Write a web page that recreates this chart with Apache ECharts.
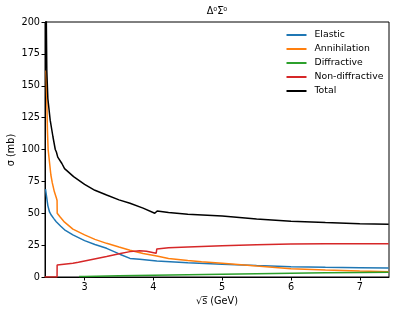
<!DOCTYPE html>
<html>
<head>
<meta charset="utf-8">
<script src="https://cdn.jsdelivr.net/npm/echarts@6/dist/echarts.min.js"></script>
<style>html,body{margin:0;padding:0;background:#fff}#c{width:399px;height:315px}</style>
</head>
<body>
<div id="c"></div>
<script>
const seriesNames = ['Elastic', 'Annihilation', 'Diffractive', 'Non-diffractive', 'Total'];
const xTicks = [3, 4, 5, 6, 7];
const yTicks = [0, 25, 50, 75, 100, 125, 150, 175, 200];

const elasticX = [2.432, 2.45, 2.466, 2.49, 2.515, 2.55, 2.588, 2.65, 2.709, 2.83, 3.0, 3.15, 3.32, 3.52, 3.66, 3.8, 4.05, 4.5, 5.0, 5.5, 6.0, 6.5, 7.0, 7.42];
const elasticY = [69, 62, 56, 51, 48.6, 46, 43.4, 40, 37, 33, 28.5, 25.5, 22.5, 17.7, 14.6, 13.9, 12.5, 11.2, 10, 9, 8.1, 7.6, 7.3, 7.1];

const annihX = [2.44, 2.45, 2.46, 2.47, 2.49, 2.51, 2.53, 2.56, 2.59, 2.6, 2.602, 2.645, 2.709, 2.83, 3.0, 3.15, 3.32, 3.5, 3.66, 3.85, 4.05, 4.22, 4.5, 4.7, 5.0, 5.5, 6.0, 6.5, 7.0, 7.42];
const annihY = [162, 140, 115, 100, 90, 80, 74, 67, 62, 60, 50, 47, 43, 37.6, 33, 29.5, 26.4, 23.5, 21, 18.5, 16.5, 14.5, 13, 12, 10.8, 8.6, 6.5, 5.5, 4.7, 4.2];

const diffX = [2.92, 3.0, 3.5, 4.0, 4.5, 5.0, 5.5, 6.0, 6.5, 7.0, 7.42];
const diffY = [0.3, 0.4, 0.9, 1.4, 1.8, 2.2, 2.6, 3.0, 3.3, 3.6, 3.8];

const nondiffX = [2.42, 2.6, 2.601, 2.7, 2.83, 2.91, 2.93, 3.0, 3.32, 3.52, 3.66, 3.8, 3.9, 4.04, 4.05, 4.22, 4.5, 4.7, 5.0, 5.5, 6.0, 6.5, 7.0, 7.42];
const nondiffY = [0, 0, 9.4, 10, 10.7, 11.5, 12.3, 12.5, 16, 18.5, 19.9, 20.6, 20.2, 18.6, 22, 23, 23.6, 24, 24.5, 25.3, 25.8, 26, 26, 26];

const totalX = [2.432, 2.444, 2.451, 2.466, 2.5, 2.54, 2.574, 2.59, 2.61, 2.67, 2.709, 2.84, 3.0, 3.15, 3.32, 3.5, 3.66, 3.85, 4.02, 4.035, 4.045, 4.055, 4.22, 4.5, 5.0, 5.5, 6.0, 6.5, 7.0, 7.42];
const totalY = [230, 200, 162, 140, 123, 110, 100, 98, 94, 89, 85, 78.7, 72.7, 68, 64.3, 60.5, 57.8, 54, 50, 48.6, 48.8, 51.8, 50.5, 49.3, 47.8, 45.5, 43.8, 42.7, 41.8, 41.3];

const colors = ['#1f77b4', '#ff7f0e', '#2ca02c', '#d62728', '#000000'];
const xs = [elasticX, annihX, diffX, nondiffX, totalX];
const ys = [elasticY, annihY, diffY, nondiffY, totalY];

const FONT = 'DejaVu Sans';
const chart = echarts.init(document.getElementById('c'), null, {renderer: 'canvas'});
chart.setOption({
  animation: false,
  backgroundColor: '#fff',
  grid: {left: 45, right: 10, top: 22, bottom: 38, show: true, borderColor: '#000', borderWidth: 1, backgroundColor: 'transparent'},
  xAxis: {
    type: 'value', min: 2.4246, max: 7.4246,
    axisLine: {show: true, lineStyle: {color: '#000', width: 1}},
    axisTick: {show: true, inside: false, length: 3.5, customValues: xTicks, lineStyle: {color: '#000'}},
    axisLabel: {customValues: xTicks, color: '#000', fontFamily: FONT, fontSize: 9.7, margin: 5},
    splitLine: {show: false}
  },
  yAxis: {
    type: 'value', min: 0, max: 200, interval: 25,
    axisLine: {show: true, lineStyle: {color: '#000', width: 1}},
    axisTick: {show: true, inside: false, length: 3.5, lineStyle: {color: '#000'}},
    axisLabel: {color: '#000', fontFamily: FONT, fontSize: 9.7, margin: 5},
    splitLine: {show: false}
  },
  legend: {
    orient: 'vertical', left: 281.5, top: 24, itemWidth: 20, itemHeight: 2, itemGap: 2,
    icon: 'rect',
    textStyle: {fontFamily: FONT, fontSize: 9.3, color: '#000', lineHeight: 12, padding: [0, 0, 0, 3]},
    data: seriesNames
  },
  graphic: [
    {type: 'text', style: {text: 'Δ⁰Σ̅⁰', fontFamily: FONT, fontSize: 9.7, fill: '#000', textAlign: 'center', textVerticalAlign: 'middle'}, x: 217, y: 11},
    {type: 'text', style: {text: '√s̅ (GeV)', fontFamily: FONT, fontSize: 9.7, fill: '#000', textAlign: 'center', textVerticalAlign: 'middle'}, x: 217, y: 301},
    {type: 'text', style: {text: 'σ (mb)', fontFamily: FONT, fontSize: 9.7, fill: '#000', textAlign: 'center', textVerticalAlign: 'middle'}, x: 11, y: 150, rotation: Math.PI / 2}
  ],
  series: seriesNames.map((n, i) => ({
    name: n, type: 'line', showSymbol: false, symbol: 'none', clip: true,
    color: colors[i],
    lineStyle: {color: colors[i], width: 1.5},
    data: xs[i].map((x, j) => [x, ys[i][j]])
  }))
});
</script>
</body>
</html>
